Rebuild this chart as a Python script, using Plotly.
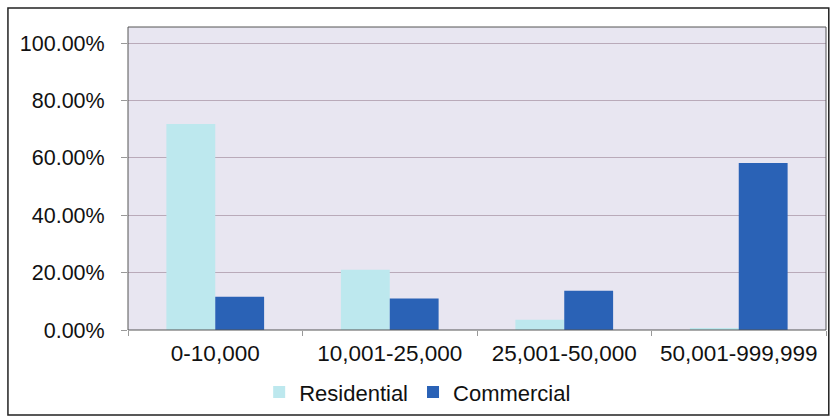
import plotly.graph_objects as go

categories = ["0-10,000", "10,001-25,000", "25,001-50,000", "50,001-999,999"]
residential = [71.8, 21.0, 3.6, 0.4]
commercial = [11.6, 11.0, 13.7, 58.2]
y_ticks = [0, 20, 40, 60, 80, 100]
y_tick_labels = ["0.00%", "20.00%", "40.00%", "60.00%", "80.00%", "100.00%"]

FONT = "Liberation Sans, Arial, sans-serif"

fig = go.Figure()
fig.add_trace(go.Bar(x=categories, y=residential, name="Residential",
                     marker=dict(color="#bde8ee", line=dict(width=0))))
fig.add_trace(go.Bar(x=categories, y=commercial, name="Commercial",
                     marker=dict(color="#2a62b6", line=dict(width=0))))

fig.update_layout(
    width=831, height=420,
    margin=dict(l=128, r=5, t=27, b=90),
    paper_bgcolor="white",
    plot_bgcolor="#e8e6f1",
    barmode="group",
    bargap=0.44,
    bargroupgap=0,
    font=dict(family=FONT, size=21, color="#111111"),
    legend=dict(orientation="h", x=0.415, xanchor="center", y=-0.205, yanchor="middle",
                font=dict(size=22), itemwidth=30, traceorder="normal",
                bgcolor="rgba(0,0,0,0)"),
    showlegend=True,
)
fig.update_xaxes(
    tickson="boundaries", ticks="outside", ticklen=5, tickcolor="#999999",
    showgrid=False, tickfont=dict(size=22.5), showline=False,
    ticklabelstandoff=7,
)
fig.update_yaxes(
    range=[0, 105.6], tickvals=y_ticks, ticktext=y_tick_labels,
    ticks="outside", ticklen=6, tickcolor="#999999",
    showgrid=True, gridcolor="#b9aab9", gridwidth=1, zeroline=False,
    tickfont=dict(size=21.5), showline=False,
    ticklabelstandoff=12,
)
# plot area frame
fig.add_shape(type="rect", xref="paper", yref="paper", x0=0, x1=1, y0=0, y1=1,
              line=dict(color="#555555", width=1), layer="above")
# outer chart frame
fig.add_shape(type="rect", xref="paper", yref="paper", x0=-0.172, x1=1.004, y0=-0.2805, y1=1.063,
              line=dict(color="#222222", width=1.5), layer="above")

fig.write_html("out.html")
